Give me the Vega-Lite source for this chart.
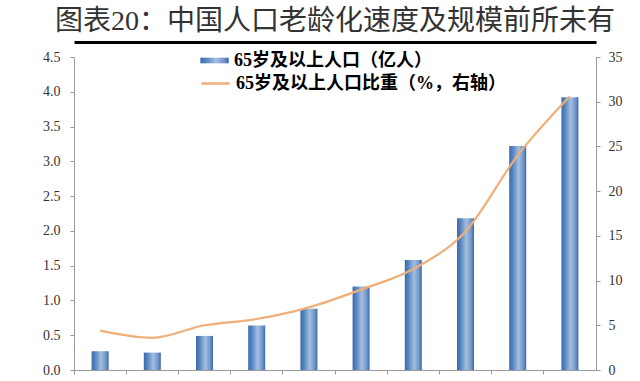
{
  "$schema": "https://vega.github.io/schema/vega-lite/v6.json",
  "width": 522,
  "height": 313,
  "autosize": "none",
  "padding": {"left": 74, "top": 57, "right": 44, "bottom": 11},
  "background": "white",
  "title": {
    "text": "图表20：中国人口老龄化速度及规模前所未有",
    "font": "Liberation Serif, Noto Sans CJK SC",
    "fontSize": 28,
    "fontWeight": "normal",
    "color": "#333333",
    "anchor": "middle",
    "offset": 6
  },
  "data": {
    "values": [
      {"year": "1953", "pop": 0.27, "pct": 4.4},
      {"year": "1964", "pop": 0.25, "pct": 3.6},
      {"year": "1982", "pop": 0.49, "pct": 5.0},
      {"year": "1990", "pop": 0.64, "pct": 5.7},
      {"year": "2000", "pop": 0.88, "pct": 7.0},
      {"year": "2010", "pop": 1.20, "pct": 9.0},
      {"year": "2020", "pop": 1.58, "pct": 11.3},
      {"year": "2030", "pop": 2.18, "pct": 15.5},
      {"year": "2040", "pop": 3.22, "pct": 24.0},
      {"year": "2050", "pop": 3.92, "pct": 30.6}
    ]
  },
  "config": {
    "view": {"stroke": null},
    "axis": {
      "labelFont": "Liberation Serif",
      "labelFontSize": 14,
      "labelColor": "#333333",
      "domainColor": "#999999",
      "tickColor": "#999999",
      "grid": false,
      "title": null
    }
  },
  "layer": [
    {
      "mark": {
        "type": "bar",
        "width": 17,
        "fill": {
          "gradient": "linear",
          "x1": 0, "y1": 0, "x2": 1, "y2": 0,
          "stops": [
            {"offset": 0, "color": "#3a6aac"},
            {"offset": 0.2, "color": "#5583c0"},
            {"offset": 0.55, "color": "#a3bfdf"},
            {"offset": 0.85, "color": "#6e93c6"},
            {"offset": 1, "color": "#3566a8"}
          ]
        }
      },
      "encoding": {
        "x": {
          "field": "year",
          "type": "ordinal",
          "sort": null,
          "scale": {"paddingInner": 0, "paddingOuter": 0},
          "axis": {"orient": "bottom", "labels": false, "tickSize": 4, "bandPosition": 0}
        },
        "y": {
          "field": "pop",
          "type": "quantitative",
          "scale": {"domain": [0, 4.5], "nice": false},
          "axis": {
            "values": [0, 0.5, 1, 1.5, 2, 2.5, 3, 3.5, 4, 4.5],
            "format": ".1f",
            "tickSize": 4,
            "labelPadding": 10
          }
        },
        "opacity": {
          "datum": "65岁及以上人口（亿人）",
          "type": "nominal",
          "scale": {"range": [1]},
          "legend": {
            "title": null,
            "orient": "none",
            "legendX": 126,
            "legendY": -11,
            "padding": 0,
            "symbolType": "M-1,-0.2H1V0.2H-1Z",
            "symbolSize": 800,
            "symbolStrokeWidth": 0,
            "labelFont": "Liberation Serif, Noto Sans CJK SC",
            "labelFontSize": 18,
            "labelFontWeight": "bold",
            "labelColor": "#000000",
            "labelOffset": 5,
            "labelLimit": 400,
            "encode": {
              "symbols": {
                "update": {
                  "fill": {"value": {
                    "gradient": "linear",
                    "x1": 0, "y1": 0, "x2": 1, "y2": 0,
                    "stops": [
                      {"offset": 0, "color": "#3a6aac"},
                      {"offset": 0.5, "color": "#8fb0d8"},
                      {"offset": 1, "color": "#3566a8"}
                    ]
                  }},
                  "opacity": {"value": 1}
                }
              }
            }
          }
        }
      }
    },
    {
      "mark": {"type": "line", "strokeWidth": 2.2, "interpolate": "monotone"},
      "encoding": {
        "x": {
          "field": "year",
          "type": "ordinal",
          "sort": null,
          "axis": {
            "orient": "top",
            "offset": 15,
            "domainColor": "#000000",
            "domainWidth": 3,
            "ticks": false,
            "labels": false
          }
        },
        "y": {
          "field": "pct",
          "type": "quantitative",
          "scale": {"domain": [0, 35], "nice": false},
          "axis": {
            "orient": "right",
            "values": [0, 5, 10, 15, 20, 25, 30, 35],
            "tickSize": 4,
            "labelPadding": 8
          }
        },
        "stroke": {
          "datum": "65岁及以上人口比重（%，右轴）",
          "type": "nominal",
          "scale": {"range": ["#f0ae78"]},
          "legend": {
            "title": null,
            "orient": "none",
            "legendX": 126,
            "legendY": 11,
            "padding": 0,
            "symbolType": "stroke",
            "symbolSize": 800,
            "symbolStrokeWidth": 2.5,
            "labelFont": "Liberation Serif, Noto Sans CJK SC",
            "labelFontSize": 18,
            "labelFontWeight": "bold",
            "labelColor": "#000000",
            "labelOffset": 5,
            "labelLimit": 400
          }
        }
      }
    }
  ],
  "resolve": {"scale": {"y": "independent"}, "axis": {"x": "independent"}}
}
